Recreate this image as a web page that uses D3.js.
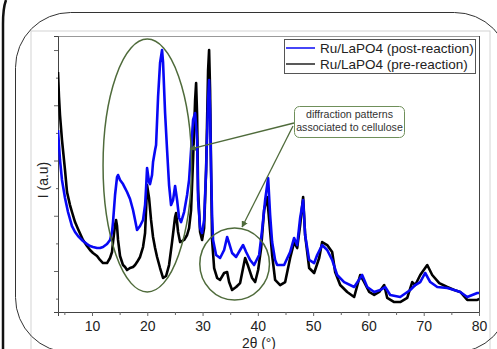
<!DOCTYPE html>
<html>
<head>
<meta charset="utf-8">
<script src="https://cdn.jsdelivr.net/npm/d3@7"></script>
<style>
  body { margin: 0; background: #fff; }
  svg { display: block; font-family: 'Liberation Sans', Arial, sans-serif; }
</style>
</head>
<body>
<div id="chart"></div>
<script>
// 2θ (deg) and intensity (a.u.)
const postTheta = [3.85, 4.21, 4.57, 5.12, 5.66, 6.38, 6.93, 7.47, 8.37, 9.10, 9.64, 10.18, 10.91, 11.45, 11.99, 12.72, 13.26, 13.62, 13.80, 14.17,
  14.53, 14.71, 15.07, 15.61, 15.98, 16.34, 16.88, 17.42, 17.79, 18.15, 18.69, 19.23, 19.60, 19.78, 19.96, 20.32, 20.50, 20.86, 21.04, 21.41,
  21.59, 21.95, 22.31, 22.67, 22.85, 23.22, 23.58, 23.94, 24.30, 24.66, 25.03, 25.39, 25.75, 26.11, 26.66, 27.20, 27.56, 27.92, 28.28, 28.65,
  29.01, 29.19, 29.55, 29.91, 30.28, 30.64, 31.00, 31.18, 31.36, 31.54, 31.72, 31.90, 32.45, 33.17, 33.90, 34.44, 34.80, 35.34, 36.07, 36.79,
  37.33, 37.88, 38.60, 39.32, 40.23, 40.77, 41.32, 41.86, 42.22, 42.58, 43.12, 43.49, 44.75, 45.84, 46.56, 47.11, 47.65, 48.19, 48.55, 49.28,
  50.18, 50.73, 51.63, 52.54, 53.44, 54.34, 55.61, 57.42, 58.87, 59.78, 61.04, 62.13, 63.03, 63.94, 65.75, 67.56, 68.47, 69.37, 70.27, 71.18,
  72.45, 74.26, 75.52, 76.61, 77.88, 79.69, 80.05];
const postI = [1776, 1505, 1324, 1161, 1034, 907, 853, 817, 772, 744, 726, 717, 708, 708, 717, 744, 781, 853, 943, 1188,
  1351, 1369, 1324, 1287, 1251, 1215, 1152, 1052, 962, 871, 907, 962, 1097, 1251, 1432, 1305, 1287, 1369, 1486, 1595,
  1640, 2075, 2382, 2500, 2391, 1930, 1595, 1278, 1097, 1143, 1269, 1143, 980, 943, 1034, 1188, 1324, 1595, 1867, 1930,
  1686, 1143, 889, 844, 962, 1414, 2048, 2229, 1957, 1414, 1007, 781, 645, 618, 690, 808, 753, 663, 627, 690,
  735, 672, 600, 554, 645, 871, 1143, 1342, 1007, 762, 600, 554, 554, 672, 799, 735, 980, 1143, 826, 600,
  572, 645, 735, 690, 600, 464, 400, 355, 464, 355, 310, 328, 355, 283, 265, 328, 373, 400, 482, 400,
  355, 346, 328, 310, 265, 301, 301];

const preTheta = [3.85, 4.03, 4.21, 4.57, 5.12, 5.48, 6.02, 6.38, 6.93, 7.47, 8.37, 9.10, 9.64, 10.18, 10.91, 11.45, 11.99, 12.72, 13.26, 13.62,
  13.80, 14.17, 14.35, 14.53, 14.71, 15.07, 15.61, 15.98, 16.34, 16.88, 17.42, 17.79, 18.15, 18.69, 19.23, 19.60, 19.78, 19.96, 20.32, 20.68,
  21.04, 21.41, 21.77, 22.31, 22.85, 23.40, 23.94, 24.48, 25.03, 25.21, 25.57, 25.93, 26.66, 27.20, 27.56, 27.92, 28.28, 28.65, 28.83, 29.01,
  29.19, 29.55, 29.91, 30.28, 30.64, 30.82, 31.00, 31.18, 31.36, 31.54, 31.72, 32.09, 32.63, 33.17, 33.90, 34.44, 34.80, 35.34, 36.07, 36.79,
  37.33, 37.70, 38.24, 38.96, 39.51, 40.05, 40.59, 41.13, 41.68, 42.04, 42.58, 43.12, 44.03, 44.94, 45.84, 46.56, 47.11, 47.65, 48.19, 48.55,
  49.28, 50.18, 51.09, 51.63, 52.54, 53.44, 53.98, 54.89, 56.16, 57.42, 58.51, 59.24, 60.14, 61.04, 61.95, 62.85, 63.40, 64.66, 65.75, 67.02,
  67.92, 68.47, 69.37, 70.64, 71.54, 72.81, 74.26, 75.52, 76.61, 77.88, 79.69, 80.05];
const preI = [2301, 2075, 1912, 1686, 1414, 1215, 1097, 1034, 943, 880, 781, 726, 690, 663, 636, 600, 572, 572, 618, 672,
  762, 916, 962, 907, 781, 636, 554, 536, 509, 527, 536, 554, 581, 627, 717, 844, 1052, 1278, 1161, 962,
  808, 708, 627, 527, 437, 455, 554, 762, 989, 1025, 853, 762, 781, 826, 889, 1052, 1505, 2048, 2201, 1912,
  1233, 853, 781, 889, 1414, 1867, 2319, 2500, 2138, 1414, 781, 527, 437, 419, 482, 491, 400, 328, 355, 391,
  527, 618, 545, 437, 400, 509, 708, 1052, 1170, 962, 645, 419, 373, 400, 618, 762, 708, 916, 1170, 826,
  527, 482, 618, 762, 735, 672, 491, 373, 310, 265, 464, 400, 310, 283, 310, 373, 256, 219, 219, 256,
  400, 373, 464, 554, 464, 391, 355, 328, 310, 238, 238, 247];

const xMajor = [10, 20, 30, 40, 50, 60, 70, 80];
const xMinor = [5, 15, 25, 35, 45, 55, 65, 75];
const yMajor = [500, 1000, 1500, 2000, 2500];
const yMinor = [250, 750, 1250, 1750, 2250];
const seriesNames = ['Ru/LaPO4 (post-reaction)', 'Ru/LaPO4 (pre-reaction)'];
const noteLines = ['diffraction patterns', 'associated to cellulose'];

const width = 497, height = 349;
const plot = { left: 58, right: 479, top: 36, bottom: 312 };
const green = '#4f6b3b';
const blue = '#0808f5';

const svg = d3.select('#chart').append('svg')
  .attr('width', width)
  .attr('height', height);

// image frame decorations
svg.append('rect')
  .attr('x', 31).attr('y', 31).attr('width', 459).attr('height', 340)
  .attr('fill', 'none').attr('stroke', '#d4d4d4').attr('stroke-width', 1);

svg.append('rect')
  .attr('x', 15.5).attr('y', 12.5).attr('width', 494).attr('height', 340)
  .attr('rx', 55).attr('ry', 55)
  .attr('fill', 'none').attr('stroke', '#333').attr('stroke-width', 1);

svg.append('path')
  .attr('d', 'M6,0 Q3,8 3,24 L3,349')
  .attr('fill', 'none').attr('stroke', '#111').attr('stroke-width', 2.5);

const x = d3.scaleLinear().domain([3.85, 80]).range([plot.left, plot.right]);
const y = d3.scaleLinear().domain([129, 2627]).range([plot.bottom, plot.top]);

svg.append('defs').append('clipPath').attr('id', 'clip')
  .append('rect')
  .attr('x', plot.left).attr('y', plot.top)
  .attr('width', plot.right - plot.left).attr('height', plot.bottom - plot.top);

// plot box
svg.append('line')
  .attr('x1', plot.left).attr('x2', plot.right)
  .attr('y1', plot.top + 0.5).attr('y2', plot.top + 0.5)
  .attr('stroke', '#999');
svg.append('line')
  .attr('x1', plot.right + 0.5).attr('x2', plot.right + 0.5)
  .attr('y1', plot.top).attr('y2', plot.bottom)
  .attr('stroke', '#444');

// axes
const xAxis = svg.append('g')
  .attr('transform', `translate(0,${plot.bottom})`)
  .call(d3.axisBottom(x).tickValues(xMajor).tickSize(4).tickPadding(5).tickFormat(d3.format('d')));
svg.append('g')
  .attr('transform', `translate(0,${plot.bottom})`)
  .call(d3.axisBottom(x).tickValues(xMinor).tickSize(3).tickFormat(''))
  .select('.domain').remove();

svg.append('g')
  .attr('transform', `translate(${plot.left},0)`)
  .call(d3.axisLeft(y).tickValues(yMajor).tickSize(4).tickFormat(''));
svg.append('g')
  .attr('transform', `translate(${plot.left},0)`)
  .call(d3.axisLeft(y).tickValues(yMinor).tickSize(2).tickFormat(''))
  .select('.domain').remove();

svg.selectAll('.domain').attr('stroke', '#444');
svg.selectAll('.tick line').attr('stroke', '#666');
xAxis.selectAll('text')
  .attr('font-size', '14px')
  .attr('fill', '#222')
  .attr('font-family', "'Liberation Sans', Arial, sans-serif");

svg.append('text')
  .attr('x', 259).attr('y', 347.5)
  .attr('text-anchor', 'middle')
  .attr('font-size', '13.8px').attr('fill', '#222')
  .text('2θ (°)');

svg.append('text')
  .attr('transform', 'translate(48,180) rotate(-90)')
  .attr('text-anchor', 'middle')
  .attr('font-size', '14px').attr('fill', '#222')
  .text('I (a.u)');

// patterns
const line = d3.line()
  .x(d => x(d[0]))
  .y(d => y(d[1]));

const pre = preTheta.map((t, i) => [t, preI[i]]);
const post = postTheta.map((t, i) => [t, postI[i]]);

const curves = svg.append('g').attr('clip-path', 'url(#clip)');
curves.append('path')
  .datum(pre)
  .attr('d', line)
  .attr('fill', 'none')
  .attr('stroke', '#000')
  .attr('stroke-width', 2.6)
  .attr('stroke-linejoin', 'round');
curves.append('path')
  .datum(post)
  .attr('d', line)
  .attr('fill', 'none')
  .attr('stroke', blue)
  .attr('stroke-width', 2.6)
  .attr('stroke-linejoin', 'round');

// cellulose highlights
svg.append('ellipse')
  .attr('cx', x(20)).attr('cy', (y(2599) + y(310)) / 2)
  .attr('rx', x(28) - x(20)).attr('ry', (y(310) - y(2599)) / 2)
  .attr('fill', 'none').attr('stroke', green).attr('stroke-width', 1.5);

svg.append('ellipse')
  .attr('cx', x(35.8)).attr('cy', (y(889) + y(238)) / 2)
  .attr('rx', x(42.1) - x(35.8)).attr('ry', (y(238) - y(889)) / 2)
  .attr('fill', 'none').attr('stroke', green).attr('stroke-width', 1.5);

svg.append('defs').append('marker')
  .attr('id', 'arrow')
  .attr('viewBox', '0 0 10 10')
  .attr('refX', 9).attr('refY', 5)
  .attr('markerWidth', 5).attr('markerHeight', 5)
  .attr('orient', 'auto')
  .append('path')
  .attr('d', 'M0,0 L10,5 L0,10 z')
  .attr('fill', green);

// note box
const box = { x: 294, y: 106, w: 110, h: 31 };
svg.append('line')
  .attr('x1', box.x).attr('y1', box.y + 17)
  .attr('x2', x(27.74)).attr('y2', y(1604))
  .attr('stroke', green).attr('stroke-width', 1.3)
  .attr('marker-end', 'url(#arrow)');
svg.append('line')
  .attr('x1', box.x - 1).attr('y1', box.y + 20)
  .attr('x2', x(37.15)).attr('y2', y(898))
  .attr('stroke', green).attr('stroke-width', 1.3)
  .attr('marker-end', 'url(#arrow)');

svg.append('rect')
  .attr('x', box.x + 0.5).attr('y', box.y + 0.5)
  .attr('width', box.w).attr('height', box.h)
  .attr('rx', 5).attr('ry', 5)
  .attr('fill', '#fff').attr('stroke', '#6f8f5a').attr('stroke-width', 1);

svg.append('text')
  .attr('text-anchor', 'middle')
  .attr('font-size', '10.6px').attr('fill', '#333')
  .selectAll('tspan')
  .data(noteLines)
  .enter()
  .append('tspan')
  .attr('x', box.x + box.w / 2 + 0.5)
  .attr('y', (d, i) => box.y + 12 + i * 13)
  .text(d => d);

// legend
const legend = svg.append('g').attr('transform', 'translate(284,39)');
legend.append('rect')
  .attr('x', 0.5).attr('y', 0.5).attr('width', 191).attr('height', 34)
  .attr('fill', '#fff').attr('stroke', '#555').attr('stroke-width', 1);

const legendColors = [blue, '#222'];
seriesNames.forEach((name, i) => {
  const ly = 9 + i * 16;
  legend.append('line')
    .attr('x1', 2).attr('x2', 31)
    .attr('y1', ly).attr('y2', ly)
    .attr('stroke', legendColors[i]).attr('stroke-width', 1.5);
  legend.append('text')
    .attr('x', 36).attr('y', ly + 5)
    .attr('font-size', '13.5px').attr('fill', '#222')
    .text(name);
});
</script>
</body>
</html>
